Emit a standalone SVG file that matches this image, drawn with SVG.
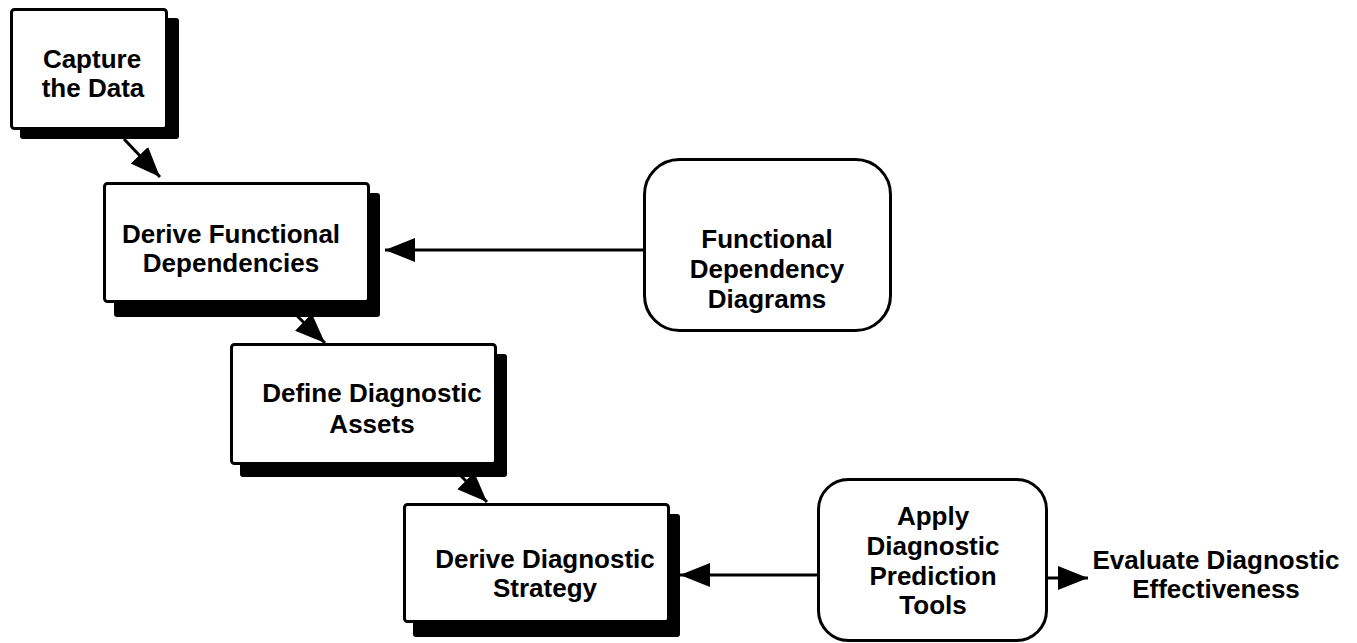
<svg xmlns="http://www.w3.org/2000/svg" width="1357" height="643" viewBox="0 0 1357 643">
<defs>
<style>
.box{fill:#fff;stroke:#000;stroke-width:3}
.sh{fill:#000}
.t{font-family:"Liberation Sans",Arial,Helvetica,sans-serif;font-weight:bold;font-size:26px;fill:#000;text-anchor:middle}
.c{stroke:#000;stroke-width:3;fill:none}
</style>
<marker id="ah" markerUnits="userSpaceOnUse" markerWidth="32" markerHeight="26" refX="30" refY="12" orient="auto" viewBox="0 0 32 26">
<path d="M0,0 L30,12 L0,24 Z" fill="#000"/>
</marker>
</defs>
<rect width="1357" height="643" fill="#fff"/>
<g id="connectors">
<line class="c" x1="124" y1="139" x2="160" y2="177" marker-end="url(#ah)"/>
<line class="c" x1="292" y1="311" x2="325" y2="343" marker-end="url(#ah)"/>
<line class="c" x1="460" y1="475" x2="487" y2="502" marker-end="url(#ah)"/>
<line class="c" x1="643" y1="250" x2="385" y2="250" marker-end="url(#ah)"/>
<line class="c" x1="817" y1="575" x2="680" y2="575" marker-end="url(#ah)"/>
<line class="c" x1="1046" y1="578" x2="1088" y2="578" marker-end="url(#ah)"/>
</g>
<g id="capture">
<rect class="sh" x="20" y="18" width="159" height="121" rx="3"/>
<rect class="box" x="11.5" y="9.5" width="155" height="119" rx="3"/>
<text class="t" x="92" y="68">Capture</text>
<text class="t" x="93" y="97">the Data</text>
</g>
<g id="derive-functional">
<rect class="sh" x="114" y="193" width="266" height="124" rx="3"/>
<rect class="box" x="104.5" y="183.5" width="264" height="118" rx="3"/>
<text class="t" x="231" y="243">Derive Functional</text>
<text class="t" x="231" y="272">Dependencies</text>
</g>
<g id="define-assets">
<rect class="sh" x="240" y="354" width="267" height="123" rx="3"/>
<rect class="box" x="231.5" y="344.5" width="264" height="119" rx="3"/>
<text class="t" x="372" y="402">Define Diagnostic</text>
<text class="t" x="372" y="433">Assets</text>
</g>
<g id="derive-strategy">
<rect class="sh" x="413" y="514" width="267" height="123" rx="3"/>
<rect class="box" x="404.5" y="504.5" width="264" height="117" rx="3"/>
<text class="t" x="545" y="568">Derive Diagnostic</text>
<text class="t" x="545" y="597">Strategy</text>
</g>
<g id="fdd">
<rect class="box" x="644.5" y="159.5" width="246" height="171" rx="35"/>
<text class="t" x="767" y="248">Functional</text>
<text class="t" x="767" y="278">Dependency</text>
<text class="t" x="767" y="308">Diagrams</text>
</g>
<g id="apply">
<rect class="box" x="818.5" y="479.5" width="228" height="161" rx="30"/>
<text class="t" x="933" y="525">Apply</text>
<text class="t" x="933" y="555">Diagnostic</text>
<text class="t" x="933" y="585">Prediction</text>
<text class="t" x="933" y="614">Tools</text>
</g>
<g id="evaluate">
<text class="t" x="1216" y="569">Evaluate Diagnostic</text>
<text class="t" x="1216" y="598">Effectiveness</text>
</g>
</svg>
